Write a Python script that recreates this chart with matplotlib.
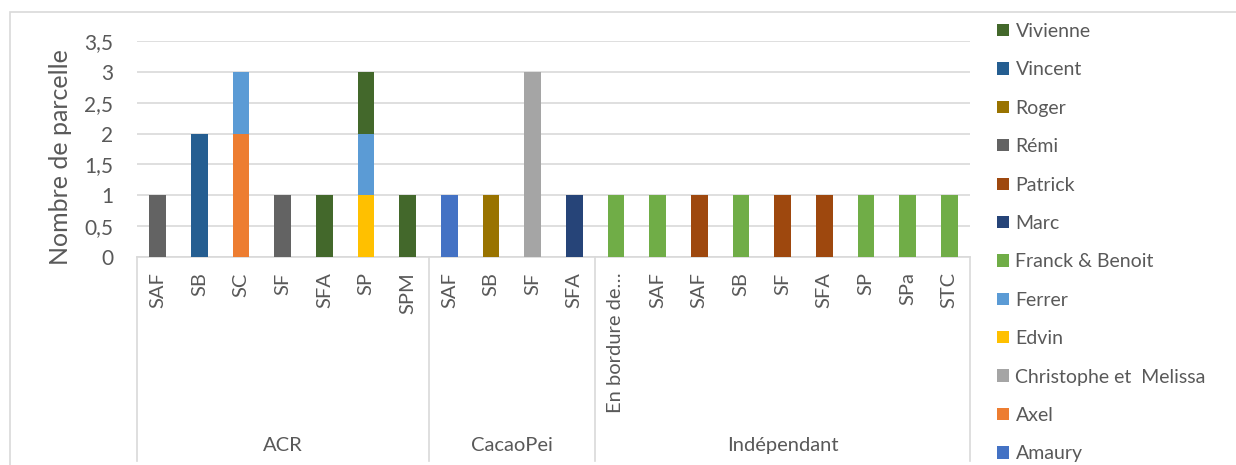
import matplotlib
matplotlib.use("Agg")
import matplotlib.pyplot as plt
import matplotlib.transforms as mtransforms
from matplotlib.patches import Rectangle
import numpy as np

plt.rcParams['font.family'] = ['Lato', 'DejaVu Sans']

groups = ["ACR", "CacaoPei", "Indépendant"]
group_sizes = [7, 4, 9]
categories = ["SAF", "SB", "SC", "SF", "SFA", "SP", "SPM",
              "SAF", "SB", "SF", "SFA",
              "En bordure de…", "SAF", "SAF", "SB", "SF", "SFA", "SP", "SPa", "STC"]

# series in stacking order (bottom to top)
series_names = ["Amaury", "Axel", "Christophe et  Melissa", "Edvin", "Ferrer",
                "Franck & Benoit", "Marc", "Patrick", "Rémi", "Roger", "Vincent", "Vivienne"]
series_colors = ["#4472C4", "#ED7D31", "#A5A5A5", "#FFC000", "#5B9BD5",
                 "#70AD47", "#264478", "#9E480E", "#636363", "#997300", "#255E91", "#43682B"]

amaury    = [0, 0, 0, 0, 0, 0, 0, 1, 0, 0, 0, 0, 0, 0, 0, 0, 0, 0, 0, 0]
axel      = [0, 0, 2, 0, 0, 0, 0, 0, 0, 0, 0, 0, 0, 0, 0, 0, 0, 0, 0, 0]
christophe= [0, 0, 0, 0, 0, 0, 0, 0, 0, 3, 0, 0, 0, 0, 0, 0, 0, 0, 0, 0]
edvin     = [0, 0, 0, 0, 0, 1, 0, 0, 0, 0, 0, 0, 0, 0, 0, 0, 0, 0, 0, 0]
ferrer    = [0, 0, 1, 0, 0, 1, 0, 0, 0, 0, 0, 0, 0, 0, 0, 0, 0, 0, 0, 0]
franck    = [0, 0, 0, 0, 0, 0, 0, 0, 0, 0, 0, 1, 1, 0, 1, 0, 0, 1, 1, 1]
marc      = [0, 0, 0, 0, 0, 0, 0, 0, 0, 0, 1, 0, 0, 0, 0, 0, 0, 0, 0, 0]
patrick   = [0, 0, 0, 0, 0, 0, 0, 0, 0, 0, 0, 0, 0, 1, 0, 1, 1, 0, 0, 0]
remi      = [1, 0, 0, 1, 0, 0, 0, 0, 0, 0, 0, 0, 0, 0, 0, 0, 0, 0, 0, 0]
roger     = [0, 0, 0, 0, 0, 0, 0, 0, 1, 0, 0, 0, 0, 0, 0, 0, 0, 0, 0, 0]
vincent   = [0, 2, 0, 0, 0, 0, 0, 0, 0, 0, 0, 0, 0, 0, 0, 0, 0, 0, 0, 0]
vivienne  = [0, 0, 0, 0, 1, 1, 1, 0, 0, 0, 0, 0, 0, 0, 0, 0, 0, 0, 0, 0]

series_values = [amaury, axel, christophe, edvin, ferrer, franck, marc,
                 patrick, remi, roger, vincent, vivienne]

yticks = [0, 0.5, 1, 1.5, 2, 2.5, 3, 3.5]
ytick_labels = ["0", "0,5", "1", "1,5", "2", "2,5", "3", "3,5"]

TXT = "#595959"
GRID = "#D9D9D9"
W, H = 1236, 465

fig = plt.figure(figsize=(W / 100, H / 100), dpi=100)

# chart border (cropped chart area)
fig.patches.append(Rectangle((10 / W, -0.1), 2, (1 - 12 / H) + 0.1,
                             transform=fig.transFigure, fill=False,
                             edgecolor=GRID, lw=1.2))

ax = fig.add_axes([137 / W, 1 - 257 / H, (970 - 137) / W, (257 - 41) / H])
x = np.arange(len(categories))
bottom = np.zeros(len(categories))
handles = []
for name, vals, col in zip(series_names, series_values, series_colors):
    v = np.array(vals, dtype=float)
    b = ax.bar(x, v, 0.4, bottom=bottom, color=col, label=name, zorder=3)
    handles.append(b)
    bottom += v

ax.set_xlim(-0.5, len(categories) - 0.5)
ax.set_ylim(0, 3.5)
ax.set_yticks(yticks)
ax.set_yticklabels(ytick_labels)
ax.yaxis.grid(True, color=GRID, lw=1.2, zorder=0)
ax.set_axisbelow(True)
for s in ax.spines.values():
    s.set_visible(False)
ax.spines['bottom'].set_visible(True)
ax.spines['bottom'].set_color(GRID)
ax.spines['bottom'].set_linewidth(1.2)
ax.tick_params(axis='y', length=0, pad=17, labelsize=15, labelcolor=TXT)
ax.set_xticks(x)
ax.set_xticklabels(categories, rotation=90, va='top', ha='center')
ax.tick_params(axis='x', length=0, pad=11, labelsize=14.5, labelcolor=TXT)

ax.set_ylabel("Nombre de parcelle", fontsize=18, color=TXT,
              va='center', ha='center')
ax.yaxis.set_label_coords((60 - 137) / 833, (257 - 157) / 216)

# group separators and labels
trans = mtransforms.blended_transform_factory(ax.transData, fig.transFigure)
edges = np.concatenate([[0], np.cumsum(group_sizes)]) - 0.5
for e in edges:
    ax.plot([e, e], [1 - 257 / H, 1 - 461 / H], color=GRID, lw=1.2,
            transform=trans, clip_on=False)
for g, a, b in zip(groups, edges[:-1], edges[1:]):
    ax.text((a + b) / 2, 1 - 445 / H, g, transform=trans, ha='center',
            va='center', fontsize=14.5, color=TXT)

# legend (Excel reverses order for stacked columns)
leg = fig.legend(handles[::-1], series_names[::-1], loc='upper left',
                 bbox_to_anchor=(997 / W, 1 - 23 / H), frameon=False,
                 fontsize=14, labelcolor=TXT, handlelength=0.6,
                 handleheight=0.6, handletextpad=0.35, labelspacing=1.10,
                 borderaxespad=0, borderpad=0)

fig.savefig("out.png", dpi=100)
